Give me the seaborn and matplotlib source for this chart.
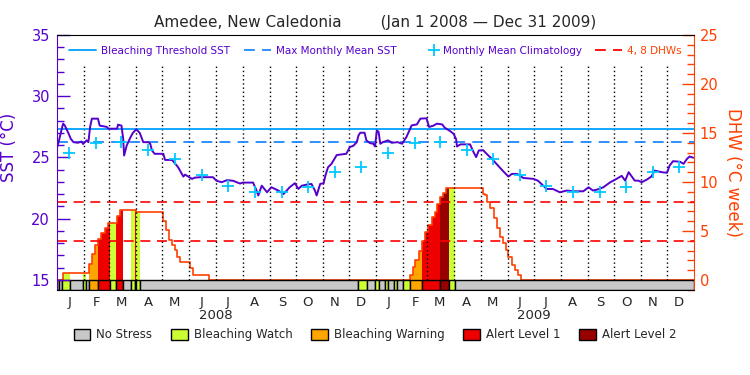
import numpy as np
import pandas as pd
import matplotlib
matplotlib.use("Agg")
import matplotlib.pyplot as plt
import matplotlib.transforms as mtransforms
from matplotlib.lines import Line2D
from matplotlib.patches import Patch
from matplotlib.legend_handler import HandlerLine2D
from matplotlib.ticker import MultipleLocator
import seaborn as sns

sns.set_style("white")
plt.rcParams["font.family"] = ["DejaVu Sans"]

# x axis = days since 2008-01-01
start = pd.Timestamp("2008-01-01")
n_days = 731

# daily SST
sst_day = [0, 2, 5, 7, 9, 13, 16, 19, 24, 28,
           30, 34, 36, 38, 40, 47, 49, 57, 59, 69,
           70, 74, 76, 77, 80, 84, 87, 91, 95, 99,
           105, 107, 109, 112, 122, 124, 132, 135, 139, 145,
           147, 155, 158, 164, 179, 183, 189, 195, 202, 210,
           213, 225, 229, 231, 235, 241, 246, 254, 260, 267,
           273, 277, 281, 287, 292, 296, 298, 302, 306, 308,
           311, 315, 321, 332, 336, 340, 344, 346, 348, 353,
           355, 359, 363, 365, 367, 369, 371, 374, 380, 384,
           391, 396, 401, 407, 413, 417, 424, 427, 432, 436,
           442, 445, 451, 455, 458, 459, 463, 474, 478, 481,
           484, 489, 493, 499, 506, 512, 518, 522, 528, 535,
           547, 552, 558, 562, 569, 577, 585, 592, 604, 610,
           615, 621, 627, 635, 642, 648, 652, 656, 659, 663,
           667, 671, 677, 682, 686, 694, 700, 703, 707, 715,
           719, 723, 726, 730]
sst_val = [25.8, 26.3, 27.2, 27.76, 27.6, 27.0, 26.5, 26.25, 26.2, 26.3,
           26.1, 26.4, 26.25, 27.5, 28.17, 28.17, 27.6, 27.5, 27.35, 27.35,
           27.68, 27.6, 26.5, 25.16, 25.98, 26.6, 27.0, 27.3, 27.0, 26.25,
           26.25, 26.12, 25.57, 25.3, 25.3, 24.8, 24.8, 24.55, 24.2, 23.44,
           23.6, 23.25, 23.35, 23.39, 23.39, 23.1, 22.98, 23.15, 23.1, 22.87,
           22.95, 22.95, 22.3, 21.9, 22.7, 22.16, 22.57, 22.3, 22.02, 22.57,
           22.9, 22.43, 22.7, 22.79, 22.84, 22.3, 21.9, 22.84, 22.9, 23.52,
           24.2, 24.48, 25.2, 25.3, 25.85, 25.95, 26.25, 26.8, 27.02, 27.02,
           26.4, 26.18, 26.12, 25.9, 27.2, 27.1, 26.12, 26.25, 26.4, 26.2,
           26.25, 26.12, 26.67, 27.62, 27.7, 28.17, 28.2, 27.49, 27.6, 27.76,
           27.7, 27.43, 27.16, 26.94, 26.5, 25.9, 26.07, 26.07, 25.44, 25.03,
           25.57, 25.6, 25.3, 24.89, 24.34, 23.88, 23.44, 23.66, 23.66, 23.33,
           23.25, 23.1, 22.7, 22.43, 22.43, 22.16, 22.3, 22.24, 22.24, 22.57,
           22.3, 22.4, 22.57, 22.98, 23.25, 23.5, 23.11, 23.8, 23.5, 23.11,
           23.11, 22.98, 23.2, 23.44, 23.93, 23.8, 23.75, 24.34, 24.7, 24.65,
           24.48, 24.89, 25.08, 24.98]

# monthly mean climatology (mid-month), repeated for both years
clim_val = [25.38, 26.2, 26.3, 25.6, 24.84, 23.6, 22.7, 22.16, 22.21, 22.57, 23.8, 24.26]
mmm_sst = 26.3
threshold_sst = 27.3
dhw_levels = [4, 8]

# degree heating weeks (step line)
dhw_day = [0, 7, 37, 40, 44, 47, 51, 55, 58, 69, 72, 91, 122, 125, 129, 132, 135, 138,
           141, 153, 156, 174,
           405, 408, 411, 415, 419, 422, 426, 430, 434, 436, 440, 443, 446, 489, 491,
           494, 497, 501, 505, 508, 512, 515, 518, 522, 526, 529, 532, 731]
dhw_val = [0, 0.68, 1.63, 2.62, 3.57, 4.15, 4.76, 5.27, 5.8, 6.53, 7.1, 6.9, 6.05, 5.1, 4.08,
           3.57, 3.06, 2.38, 1.85, 1.25, 0.5, 0,
           0.5, 1.3, 2.04, 3.0, 4.01, 4.93, 5.61, 6.39, 6.97, 7.76, 8.44, 8.91, 9.35, 8.78,
           8.67, 8.0, 7.31, 6.29, 5.27, 4.42, 3.81, 3.06, 2.38, 1.53, 1.02, 0.51, 0, 0]

# stress level segments: start day and level (0 none .. 4 alert 2)
stress_start = [0, 2, 6, 15, 30, 33, 37, 47, 61, 68, 76, 85, 89, 91, 95,
                345, 356, 365, 370, 376, 380, 387, 390, 397, 405, 419, 440, 450, 457]
stress_level = [1, 0, 1, 0, 1, 0, 2, 3, 1, 3, 0, 1, 3, 1, 0,
                1, 0, 1, 0, 1, 0, 1, 0, 1, 2, 3, 4, 1, 0]
stress_names = ["No Stress", "Bleaching Watch", "Bleaching Warning", "Alert Level 1", "Alert Level 2"]
stress_colors = ["#c8c8c8", "#ccff33", "#ffa500", "#ee0000", "#990000"]

purple = "#5500cc"
orange = "#ff4000"
thr_color = "#00a0ff"
mmm_color = "#1e88ff"
clim_color = "#00c8ff"
dash = (0, (6, 4))


class MarkerRight(HandlerLine2D):
    # put the "+" at the right end of the handle box, next to its text
    def get_xdata(self, legend, xdescent, ydescent, width, height, fontsize):
        m = width - xdescent - 0.35 * fontsize
        return np.array([m, m]), np.array([m])


fig = plt.figure(figsize=(7.5, 3.75), dpi=100)
ax = fig.add_axes([57 / 750, 1 - 290 / 375, 637 / 750, 255 / 375])
ax2 = ax.twinx()
ax.set_zorder(ax2.get_zorder() + 1)
ax.patch.set_visible(False)

# DHW axis: fills, stress bar, step line
days = np.arange(n_days + 1)
idx = np.searchsorted(dhw_day, days, side="right") - 1
dhw_daily = np.array(dhw_val)[idx]
stress_end = stress_start[1:] + [n_days]
for s, e, lev in zip(stress_start, stress_end, stress_level):
    ax2.bar(s, 1.02, width=e - s, bottom=-1.02, align="edge", color=stress_colors[lev],
            edgecolor="black", linewidth=1, zorder=3)
    if lev > 0:
        seg = days[s:e + 1]
        ax2.fill_between(seg, 0, dhw_daily[seg], step="post", color=stress_colors[lev],
                         linewidth=0, zorder=1)

sns.lineplot(x=dhw_day, y=dhw_val, ax=ax2, color=orange, lw=1.2, drawstyle="steps-post",
             estimator=None, sort=False, zorder=2)
for lv in dhw_levels:
    ax2.axhline(lv, color="red", lw=1.2, ls=dash, zorder=2)

ax2.set_ylim(-1.02, 25)
ax2.yaxis.set_major_locator(MultipleLocator(5))
ax2.yaxis.set_minor_locator(MultipleLocator(1))
ax2.tick_params(axis="y", which="major", direction="in", length=9, width=1, colors=orange,
                labelsize=10.5, pad=4)
ax2.tick_params(axis="y", which="minor", direction="in", length=5, width=1, colors=orange)
ax2.set_xlabel("")
ax2.set_ylabel("DHW (°C week)", color=orange, fontsize=12, rotation=-90,
               ha="center", va="center", rotation_mode="anchor")
ax2.yaxis.set_label_coords(1.061, 0.46)
for side in ["left", "top", "bottom"]:
    ax2.spines[side].set_visible(False)
ax2.spines["right"].set_color(orange)

# SST axis
months = pd.date_range("2008-01-01", "2009-12-01", freq="MS")
month_mid = (months + pd.Timedelta(days=14) - start).days
month_edges = (months[1:] - start).days
ax.vlines(month_edges, 15, 32.5, colors="black", linestyles=(0, (1, 2)), lw=1, zorder=1)
ax.axhline(threshold_sst, color=thr_color, lw=1.3, zorder=2)
ax.axhline(mmm_sst, color=mmm_color, lw=1.3, ls=dash, zorder=2)
sns.lineplot(x=sst_day, y=sst_val, ax=ax, color=purple, lw=1.4, estimator=None, zorder=4)
sns.scatterplot(x=month_mid, y=clim_val * 2, ax=ax, color=clim_color, marker="+", s=80,
                linewidth=1.3, zorder=5)

ax.set_xlim(0, n_days)
ax.set_ylim(14.18, 35)
ax.yaxis.set_major_locator(MultipleLocator(5))
ax.yaxis.set_minor_locator(MultipleLocator(1))
ax.tick_params(axis="y", which="major", direction="in", length=9, width=1, colors=purple,
               labelsize=10.5, pad=5)
ax.tick_params(axis="y", which="minor", direction="in", length=5, width=1, colors=purple)
ax.set_xlabel("")
ax.set_ylabel("SST (°C)", color=purple, fontsize=12)
ax.yaxis.set_label_coords(-0.062, 0.56)
ax.set_xticks(month_mid)
ax.set_xticklabels([m.strftime("%b")[0] for m in months])
ax.tick_params(axis="x", length=0, pad=4, labelsize=9.5)
ax.spines["right"].set_visible(False)
ax.spines["left"].set_color(purple)
for side in ["top", "bottom"]:
    ax.spines[side].set_color("black")

trans = mtransforms.blended_transform_factory(ax.transData, ax.transAxes)
for yr in ["2008", "2009"]:
    x_mid = (pd.Timestamp(yr + "-07-01") - start).days
    ax.text(x_mid, -0.1, yr, transform=trans, ha="center", va="center", fontsize=9.5)

ax.set_title("Amedee, New Caledonia        (Jan 1 2008 \u2014 Dec 31 2009)", fontsize=11, pad=6)

clim_handle = Line2D([], [], color=clim_color, marker="+", ls="none", ms=8, mew=1.3)
top_handles = [
    Line2D([], [], color=thr_color, lw=1.3),
    Line2D([], [], color=mmm_color, lw=1.3, ls=dash),
    clim_handle,
    Line2D([], [], color="red", lw=1.3, ls=dash),
]
top_labels = ["Bleaching Threshold SST", "Max Monthly Mean SST", "Monthly Mean Climatology", "4, 8 DHWs"]
ax.legend(top_handles, top_labels, ncol=4, loc="center", bbox_to_anchor=(0.5, 0.937),
          frameon=False, fontsize=7.5, handlelength=2.6, columnspacing=1.3, handletextpad=0.5,
          labelcolor=[purple, purple, purple, orange],
          handler_map={clim_handle: MarkerRight(numpoints=1)})

bottom_handles = [Patch(facecolor=c, edgecolor="black", lw=1) for c in stress_colors]
fig.legend(bottom_handles, stress_names, ncol=5, loc="center", bbox_to_anchor=(0.5, 0.107),
           frameon=False, fontsize=8.5, handlelength=1.4, handleheight=1.0, columnspacing=1.6,
           handletextpad=0.5)

fig.savefig("out.png", dpi=100)
